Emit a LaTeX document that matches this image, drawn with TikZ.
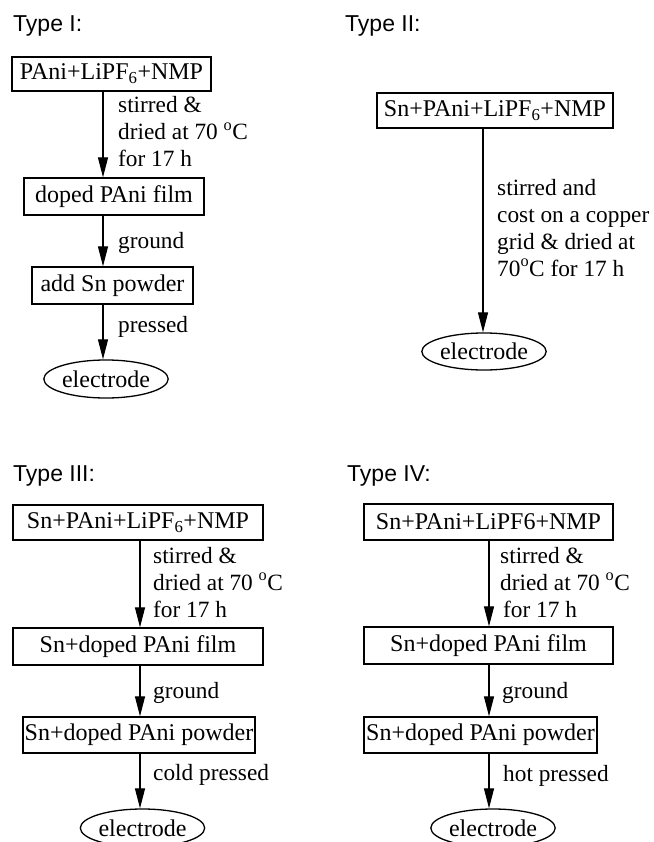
\documentclass[tikz,border=0pt]{standalone}
\usepackage{fontspec}
\setmainfont{Liberation Serif}
\newfontfamily\titlefont{Liberation Sans}
\usetikzlibrary{shapes.geometric,arrows.meta}
\tikzset{
  boxnode/.style={draw, line width=1.3pt, inner sep=0pt, minimum height=36pt,
    font=\fontsize{24}{27}\selectfont},
  ovalnode/.style={draw, ellipse, line width=1.3pt, inner sep=0pt,
    minimum width=114pt, minimum height=38pt, font=\fontsize{24}{27}\selectfont},
  lbl/.style={anchor=base west, inner sep=0pt, align=left,
    font=\fontsize{23.3}{27}\selectfont},
  ttl/.style={anchor=base west, inner sep=0pt, font=\titlefont\fontsize{23}{27}\selectfont},
  arr/.style={line width=1.2pt, -{Triangle[length=20pt,width=10pt]}}
}
\newcommand{\degC}{\textsuperscript{o}C}
\begin{document}
\begin{tikzpicture}[x=1pt,y=-1pt]
\useasboundingbox (0,0) rectangle (653,842);
\clip (0,0) rectangle (653,842);
% ---------- Type I ----------
\node[ttl] (tI) at (13,32) {Type I:};
\coordinate (xI) at (103,0);
\node[boxnode, minimum width=199pt, minimum height=34pt] (I1) at (111.5,74) {PAni+LiPF\textsubscript{6}+NMP};
\node[boxnode, minimum width=180pt, minimum height=37pt] (I2) at (114,196.5) {doped PAni film};
\node[boxnode, minimum width=161pt, minimum height=37pt] (I3) at (112.5,285.5) {add Sn powder};
\node[ovalnode] (I4) at (106,379) {electrode};
\draw[arr] (I1.south -| xI) -- (I2.north -| xI);
\draw[arr] (I2.south -| xI) -- (I3.north -| xI);
\draw[arr] (I3.south -| xI) -- (I4.north -| xI);
\node[lbl] (lI1) at (118,167) {stirred \&\\dried at 70 \degC\\for 17 h};
\node[lbl] (lI2) at (118,248) {ground};
\node[lbl] (lI3) at (118,332) {pressed};
% ---------- Type II ----------
\node[ttl] (tII) at (345,32) {Type II:};
\coordinate (xII) at (483,0);
\node[boxnode, minimum width=236pt, minimum height=35pt] (II1) at (495,110.5) {Sn+PAni+LiPF\textsubscript{6}+NMP};
\node[ovalnode, minimum width=116pt, minimum height=37pt] (II2) at (484,351.5) {electrode};
\draw[arr] (II1.south -| xII) -- (II2.north -| xII);
\node[lbl] (lII1) at (497,276) {stirred and\\cost on a copper\\grid \& dried at\\70\degC\ for 17 h};
% ---------- Type III ----------
\node[ttl] (tIII) at (13,481) {Type III:};
\coordinate (xIII) at (140,0);
\node[boxnode, minimum width=250pt, minimum height=35pt] (III1) at (138,522.5) {Sn+PAni+LiPF\textsubscript{6}+NMP};
\node[boxnode, minimum width=250pt, minimum height=37pt] (III2) at (138,646.5) {Sn+doped PAni film};
\node[boxnode, minimum width=232pt, minimum height=36pt] (III3) at (139,735) {Sn+doped PAni powder};
\node[ovalnode, minimum width=115pt] (III4) at (142.5,828) {electrode};
\draw[arr] (III1.south -| xIII) -- (III2.north -| xIII);
\draw[arr] (III2.south -| xIII) -- (III3.north -| xIII);
\draw[arr] (III3.south -| xIII) -- (III4.north -| xIII);
\node[lbl] (lIII1) at (153,617) {stirred \&\\dried at 70 \degC\\for 17 h};
\node[lbl] (lIII2) at (153,698) {ground};
\node[lbl] (lIII3) at (153,780) {cold pressed};
% ---------- Type IV ----------
\node[ttl] (tIV) at (347,481) {Type IV:};
\coordinate (xIV) at (489,0);
\node[boxnode, minimum width=249pt, minimum height=36pt] (IV1) at (488.5,522) {Sn+PAni+LiPF6+NMP};
\node[boxnode, minimum width=249pt, minimum height=37pt] (IV2) at (488.5,645.5) {Sn+doped PAni film};
\node[boxnode, minimum width=233pt, minimum height=36pt] (IV3) at (480.5,735) {Sn+doped PAni powder};
\node[ovalnode] (IV4) at (493,828) {electrode};
\draw[arr] (IV1.south -| xIV) -- (IV2.north -| xIV);
\draw[arr] (IV2.south -| xIV) -- (IV3.north -| xIV);
\draw[arr] (IV3.south -| xIV) -- (IV4.north -| xIV);
\node[lbl] (lIV1) at (500,617) {stirred \&\\dried at 70 \degC\\\hspace{3pt}for 17 h};
\node[lbl] (lIV2) at (502,698) {ground};
\node[lbl] (lIV3) at (503,781) {hot pressed};
\end{tikzpicture}
\end{document}
